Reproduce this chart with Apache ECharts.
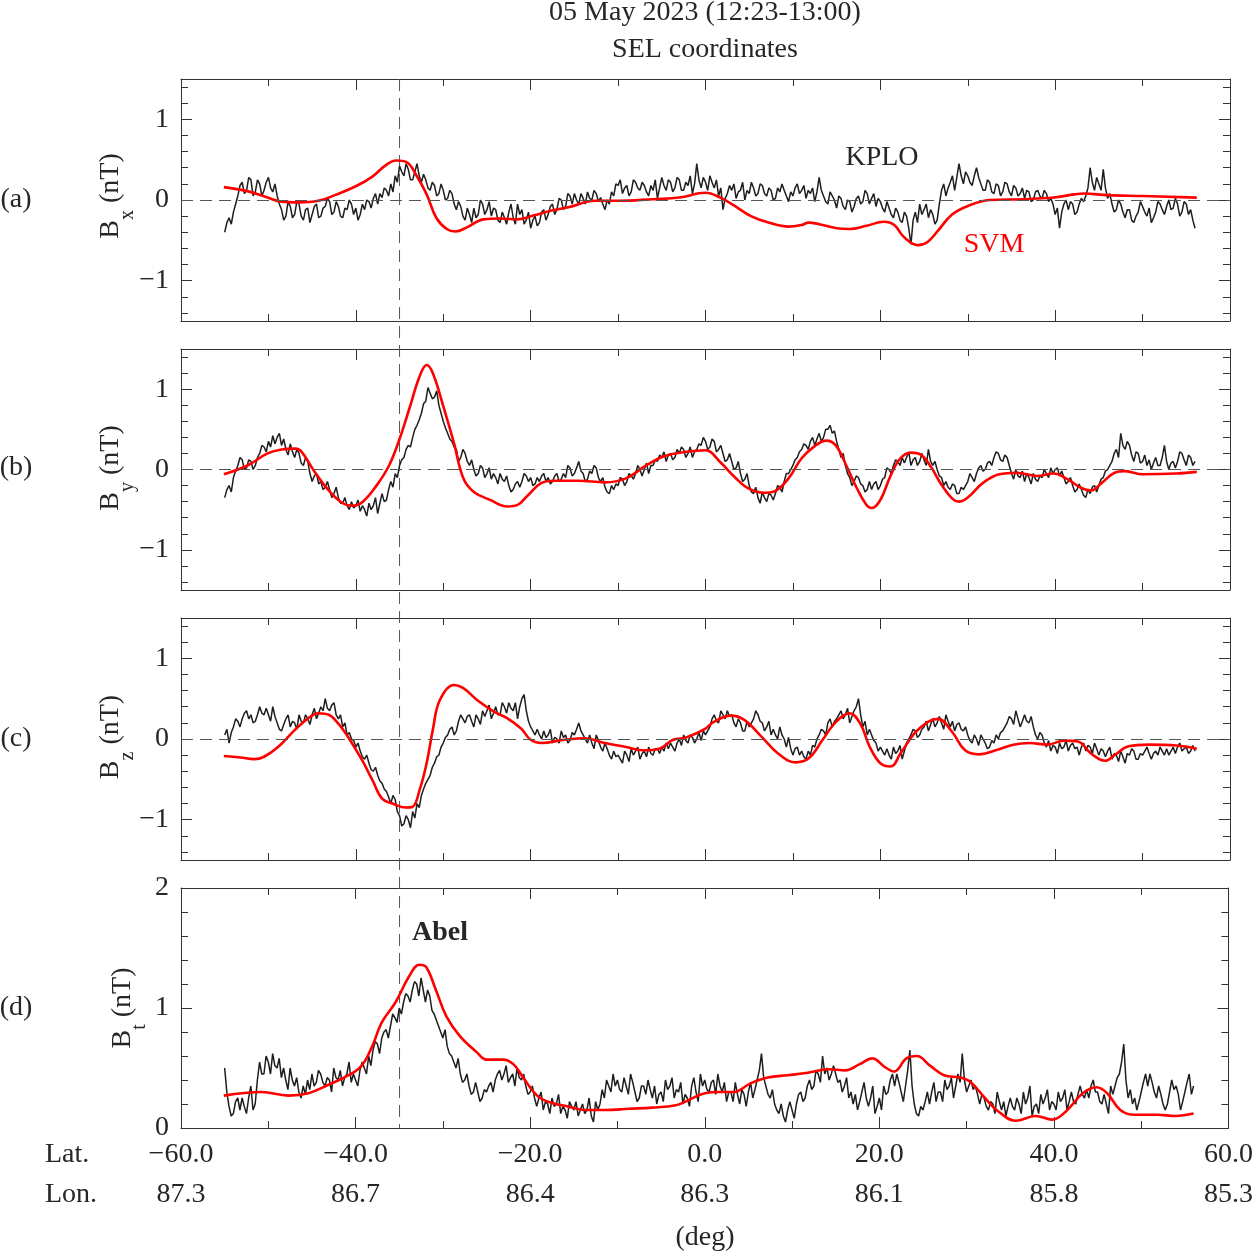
<!DOCTYPE html>
<html><head><meta charset="utf-8">
<script src="https://cdn.jsdelivr.net/npm/echarts@6/dist/echarts.min.js"></script>
<style>html,body{margin:0;padding:0;background:#fff}#c{width:1256px;height:1254px}</style>
</head><body><div id="c"></div>
<script>
// ---------- tick labels ----------
const LAT_TICKS = [-60, -40, -20, 0, 20, 40, 60];
const LON_TICKS = ['87.3', '86.7', '86.4', '86.3', '86.1', '85.8', '85.3'];
const ABEL_LAT = -35;

// ---------- KPLO samples (lat from -55 to 56, every 0.25 deg; one row = 5 deg) ----------
const KPLO_LAT_START = -55, KPLO_LAT_STEP = 0.25;
const KPLO_BX = [
 -0.40,-0.28,-0.22,-0.30,-0.15,-0.05,0.05,0.18,0.22,0.08,0.12,0.28,0.25,0.05,0.10,0.25,0.20,0.05,0.12,0.22,
 0.28,0.15,0.10,0.20,0.05,-0.05,-0.12,-0.25,-0.20,-0.02,-0.08,-0.22,-0.18,-0.02,-0.05,-0.20,-0.25,-0.12,-0.10,-0.28,
 -0.18,-0.08,-0.05,-0.22,-0.20,-0.10,-0.08,0.02,-0.02,-0.18,-0.15,-0.02,-0.08,-0.20,-0.22,-0.10,-0.12,0.00,-0.05,-0.18,
 -0.10,-0.25,-0.18,-0.05,-0.12,0.00,-0.02,-0.10,0.02,0.08,-0.05,0.08,0.03,0.15,0.12,0.05,0.20,0.10,0.30,0.22,
 0.42,0.35,0.30,0.45,0.38,0.25,0.25,0.35,0.45,0.30,0.22,0.32,0.25,0.15,0.12,0.22,0.18,0.05,0.08,0.20,
 0.12,0.00,0.02,0.12,0.08,-0.05,-0.12,-0.02,-0.08,-0.20,-0.25,-0.10,-0.18,-0.28,-0.10,-0.22,-0.18,0.00,-0.05,-0.18,
 -0.12,-0.02,-0.20,-0.10,-0.12,-0.25,-0.28,-0.15,-0.22,-0.30,-0.15,-0.05,-0.22,-0.30,-0.05,-0.18,-0.12,-0.30,-0.25,-0.15,
 -0.35,-0.25,-0.20,-0.32,-0.28,-0.15,-0.12,-0.25,-0.18,-0.08,-0.05,-0.18,-0.12,0.02,0.00,-0.12,-0.08,0.08,0.05,-0.05,
 0.08,0.00,-0.05,0.08,0.02,-0.05,0.10,0.02,0.00,0.12,0.08,-0.02,0.03,-0.05,-0.12,0.00,-0.05,0.10,0.05,0.20,
 0.18,0.25,0.08,0.15,0.18,0.05,0.10,0.25,0.22,0.15,0.12,0.22,0.18,0.10,0.05,0.18,0.12,0.25,0.02,0.15,
 0.28,0.18,0.12,0.25,0.22,0.10,0.15,0.28,0.25,0.12,0.12,0.22,0.18,0.30,0.08,0.20,0.45,0.25,0.15,0.28,
 0.22,0.12,0.30,0.22,0.15,0.25,0.05,0.15,-0.12,0.02,0.08,0.18,0.12,0.20,0.02,0.10,0.12,0.22,0.00,0.12,
 0.08,0.22,0.15,0.05,0.08,0.20,0.18,0.08,0.05,0.15,0.12,0.00,0.02,0.15,0.10,0.20,0.12,0.05,-0.02,0.10,
 0.05,0.15,0.20,0.08,0.12,0.18,0.02,0.12,0.08,0.15,-0.02,0.10,0.28,0.12,0.05,-0.02,-0.05,0.10,0.05,0.00,
 -0.10,0.05,0.02,-0.08,-0.12,0.00,-0.02,-0.15,-0.08,0.02,0.05,-0.05,-0.02,0.12,0.08,-0.05,0.02,0.08,-0.08,0.02,
 -0.02,-0.10,-0.15,-0.02,-0.10,-0.18,-0.22,-0.10,-0.15,-0.25,-0.28,-0.15,-0.20,-0.35,-0.55,-0.25,-0.15,-0.28,-0.05,-0.18,
 -0.12,-0.05,-0.22,-0.12,-0.18,-0.30,-0.25,-0.05,0.12,0.20,0.05,0.15,0.22,0.30,0.12,0.28,0.45,0.30,0.20,0.35,
 0.30,0.22,0.18,0.30,0.40,0.28,0.20,0.12,0.12,0.25,0.22,0.10,0.08,0.20,0.18,0.05,0.10,0.22,0.20,0.10,
 0.05,0.18,0.15,0.05,0.08,0.15,0.02,0.12,0.10,-0.02,0.00,0.10,0.12,0.05,0.02,0.12,0.08,-0.02,0.02,-0.05,
 -0.18,-0.10,-0.35,-0.15,-0.05,0.00,-0.12,-0.02,-0.05,-0.18,-0.15,-0.05,0.02,-0.02,0.05,0.15,0.40,0.22,0.12,0.28,
 0.20,0.12,0.38,0.15,0.02,0.08,-0.05,-0.15,-0.12,0.00,-0.05,-0.15,-0.22,-0.12,-0.12,-0.25,-0.28,-0.20,-0.15,-0.02,
 -0.08,-0.15,-0.20,-0.10,-0.28,-0.22,-0.15,-0.02,-0.05,-0.12,-0.18,-0.08,0.00,-0.12,-0.10,0.02,-0.05,-0.20,-0.15,-0.02,
 -0.05,-0.18,-0.12,-0.25,-0.35
];
const KPLO_BY = [
 -0.35,-0.25,-0.20,-0.28,-0.10,-0.02,0.05,0.15,0.12,0.00,0.02,0.12,0.10,0.00,0.05,0.15,0.20,0.30,0.28,0.22,
 0.35,0.28,0.42,0.32,0.40,0.45,0.30,0.38,0.25,0.18,0.32,0.22,0.15,0.25,0.20,0.08,0.05,0.15,0.10,-0.05,
 -0.15,-0.08,-0.05,-0.18,-0.15,-0.25,-0.22,-0.15,-0.25,-0.35,-0.30,-0.22,-0.35,-0.42,-0.42,-0.35,-0.45,-0.50,-0.40,-0.48,
 -0.45,-0.38,-0.52,-0.45,-0.50,-0.58,-0.42,-0.50,-0.45,-0.35,-0.55,-0.42,-0.30,-0.40,-0.38,-0.25,-0.15,-0.22,-0.05,-0.10,
 0.05,0.12,0.15,0.25,0.30,0.28,0.40,0.50,0.55,0.62,0.70,0.82,0.85,1.02,0.95,0.88,0.90,0.98,0.80,0.70,
 0.60,0.52,0.45,0.38,0.35,0.28,0.25,0.10,0.15,0.25,0.20,0.10,0.05,0.12,0.00,-0.08,-0.05,0.05,0.02,-0.10,
 -0.05,0.02,-0.12,-0.05,-0.10,-0.18,-0.05,-0.12,-0.15,-0.08,-0.20,-0.28,-0.25,-0.18,-0.15,-0.22,-0.15,-0.05,-0.08,-0.15,
 -0.10,-0.20,-0.18,-0.10,-0.15,-0.08,-0.05,-0.15,-0.10,-0.18,-0.15,-0.08,-0.05,-0.15,-0.12,-0.05,-0.10,0.05,0.02,-0.08,
 -0.05,0.02,0.10,-0.02,-0.05,-0.15,-0.12,-0.02,-0.05,0.05,0.02,-0.10,-0.15,-0.10,-0.22,-0.28,-0.30,-0.20,-0.25,-0.18,
 -0.20,-0.10,-0.12,-0.20,-0.15,-0.05,-0.08,-0.12,-0.05,0.05,0.00,-0.08,0.00,0.08,-0.05,0.05,0.05,0.12,0.10,0.18,
 0.15,0.22,0.10,0.18,0.20,0.12,0.15,0.25,0.20,0.28,0.25,0.15,0.20,0.28,0.15,0.22,0.25,0.32,0.30,0.40,
 0.35,0.25,0.28,0.38,0.35,0.22,0.25,0.30,0.20,0.10,0.12,0.20,0.10,0.00,0.02,0.10,-0.05,-0.15,-0.12,-0.05,
 -0.20,-0.28,-0.30,-0.22,-0.35,-0.42,-0.28,-0.35,-0.40,-0.30,-0.32,-0.38,-0.30,-0.20,-0.22,-0.28,-0.15,-0.05,-0.05,0.00,
 0.05,0.12,0.15,0.22,0.25,0.32,0.30,0.25,0.35,0.40,0.30,0.38,0.45,0.35,0.40,0.50,0.50,0.55,0.45,0.48,
 0.35,0.25,0.15,0.20,0.05,-0.05,-0.10,-0.20,-0.15,-0.08,-0.10,-0.18,-0.20,-0.28,-0.25,-0.15,-0.25,-0.18,-0.15,-0.25,
 -0.20,-0.12,-0.10,0.02,0.00,-0.05,0.05,0.12,0.10,0.05,0.15,0.08,0.15,0.22,0.05,0.12,0.15,0.05,0.10,0.20,
 0.12,0.05,0.25,0.10,0.05,0.10,0.00,-0.08,-0.10,-0.20,-0.15,-0.22,-0.25,-0.18,-0.20,-0.30,-0.30,-0.22,-0.25,-0.20,
 -0.15,-0.05,-0.10,-0.15,-0.05,0.02,0.05,-0.02,0.00,0.08,0.10,0.05,0.15,0.22,0.20,0.12,0.10,0.18,0.15,0.05,
 -0.05,-0.12,0.00,-0.08,-0.10,-0.02,-0.15,-0.05,-0.10,-0.18,-0.05,-0.12,-0.15,-0.08,-0.10,0.00,-0.05,-0.10,0.02,-0.05,
 0.00,0.02,-0.08,-0.02,-0.10,-0.18,-0.15,-0.10,-0.20,-0.28,-0.25,-0.18,-0.25,-0.32,-0.35,-0.25,-0.30,-0.22,-0.20,-0.28,
 -0.20,-0.12,-0.10,-0.02,0.00,0.05,0.10,0.20,0.25,0.15,0.45,0.30,0.25,0.35,0.30,0.18,0.10,0.22,0.20,0.08,
 0.10,0.18,0.05,0.12,0.00,0.08,0.15,0.05,0.05,0.15,0.30,0.10,0.00,0.08,0.10,0.02,0.10,0.22,0.20,0.12,
 0.05,0.18,0.15,0.05,0.10
];
const KPLO_BZ = [
 0.05,0.12,-0.05,0.08,0.15,0.25,0.22,0.15,0.25,0.32,0.35,0.25,0.30,0.20,0.22,0.30,0.40,0.32,0.30,0.38,
 0.30,0.22,0.40,0.28,0.20,0.12,0.10,0.18,0.25,0.30,0.15,0.22,0.20,0.12,0.30,0.22,0.20,0.30,0.25,0.18,
 0.30,0.38,0.25,0.32,0.40,0.35,0.50,0.38,0.35,0.42,0.45,0.30,0.25,0.30,0.15,0.20,0.05,0.08,0.00,-0.02,
 -0.10,-0.05,-0.15,-0.22,-0.25,-0.20,-0.30,-0.38,-0.40,-0.35,-0.45,-0.52,-0.55,-0.62,-0.65,-0.72,-0.80,-0.70,-0.75,-0.90,
 -0.95,-1.08,-1.05,-0.95,-1.00,-1.10,-0.90,-0.98,-0.80,-0.85,-0.70,-0.62,-0.55,-0.50,-0.45,-0.35,-0.30,-0.22,-0.20,-0.10,
 -0.05,0.02,0.05,0.12,0.15,0.05,0.10,0.22,0.30,0.25,0.20,0.28,0.30,0.22,0.15,0.30,0.25,0.18,0.35,0.28,
 0.35,0.42,0.25,0.32,0.40,0.30,0.30,0.45,0.40,0.32,0.45,0.38,0.35,0.45,0.25,0.40,0.50,0.55,0.35,0.22,
 0.15,0.10,0.05,0.12,0.05,0.00,0.10,0.02,0.05,0.12,-0.05,0.02,0.00,-0.05,0.10,0.02,0.05,-0.05,-0.02,0.08,
 0.05,0.12,0.20,0.10,0.05,0.00,-0.05,0.05,-0.05,-0.12,0.05,-0.02,-0.10,-0.15,-0.05,-0.12,-0.20,-0.25,-0.15,-0.22,
 -0.20,-0.25,-0.30,-0.15,-0.20,-0.28,-0.12,-0.20,-0.15,-0.10,-0.25,-0.18,-0.15,-0.22,-0.10,-0.18,-0.20,-0.12,-0.12,-0.18,
 -0.10,-0.15,-0.05,-0.12,-0.05,-0.10,-0.15,-0.05,0.00,-0.08,0.05,-0.02,-0.05,0.05,0.02,-0.05,0.00,0.08,-0.02,0.10,
 0.05,0.10,0.15,0.25,0.30,0.22,0.20,0.35,0.30,0.25,0.35,0.28,0.30,0.20,0.15,0.25,0.20,0.10,0.10,0.22,
 0.15,0.20,0.25,0.35,0.30,0.22,0.20,0.10,0.15,0.22,0.05,0.12,0.05,0.00,0.15,0.05,0.00,-0.10,0.02,-0.12,
 -0.20,-0.12,-0.10,-0.20,-0.15,-0.22,-0.25,-0.15,-0.20,-0.08,-0.10,0.00,0.05,0.12,0.10,0.05,0.20,0.25,0.15,0.22,
 0.25,0.30,0.35,0.25,0.30,0.38,0.20,0.28,0.35,0.40,0.50,0.30,0.15,0.22,0.05,0.12,0.05,-0.02,-0.05,-0.15,
 -0.10,-0.15,-0.20,-0.12,-0.20,-0.25,-0.10,-0.18,-0.15,-0.08,-0.25,-0.15,-0.05,0.00,0.05,0.12,0.10,0.02,0.05,0.12,
 0.15,0.22,0.10,0.18,0.25,0.15,0.20,0.28,0.20,0.12,0.30,0.22,0.15,0.22,0.10,0.18,0.20,0.12,0.10,0.15,
 0.05,-0.02,-0.05,0.05,0.00,-0.08,0.05,0.00,-0.05,-0.12,-0.10,-0.02,-0.05,0.05,0.00,0.08,0.10,0.15,0.20,0.28,
 0.25,0.18,0.35,0.25,0.15,0.22,0.30,0.22,0.20,0.28,0.15,0.05,0.00,0.08,0.05,-0.05,-0.10,-0.02,-0.15,-0.08,
 -0.10,-0.18,-0.05,-0.12,-0.10,-0.02,-0.15,-0.08,-0.05,-0.12,-0.10,-0.20,-0.10,-0.05,-0.15,-0.08,-0.10,-0.18,-0.05,-0.12,
 -0.20,-0.12,-0.15,-0.22,-0.15,-0.10,-0.25,-0.18,-0.20,-0.28,-0.15,-0.22,-0.30,-0.18,-0.20,-0.12,-0.15,-0.25,-0.25,-0.18,
 -0.20,-0.15,-0.10,-0.18,-0.25,-0.18,-0.15,-0.20,-0.10,-0.15,-0.20,-0.12,-0.20,-0.15,-0.10,-0.18,-0.10,-0.05,-0.15,-0.12,
 -0.10,-0.18,-0.15,-0.08,-0.15
];
const KPLO_BT = [
 0.50,0.30,0.18,0.10,0.12,0.22,0.25,0.15,0.25,0.18,0.12,0.25,0.35,0.15,0.20,0.40,0.55,0.45,0.45,0.60,
 0.55,0.45,0.62,0.52,0.50,0.58,0.42,0.50,0.40,0.32,0.50,0.40,0.35,0.42,0.30,0.25,0.35,0.28,0.40,0.32,
 0.45,0.35,0.38,0.48,0.45,0.38,0.35,0.42,0.40,0.30,0.50,0.42,0.40,0.48,0.35,0.42,0.45,0.55,0.38,0.45,
 0.40,0.35,0.48,0.55,0.50,0.45,0.60,0.52,0.65,0.72,0.70,0.62,0.75,0.80,0.82,0.75,0.85,0.95,0.92,0.88,
 1.00,0.95,1.05,1.12,1.10,1.05,1.15,1.22,1.20,1.10,1.25,1.15,1.05,1.15,1.10,0.98,0.95,0.90,0.85,0.80,
 0.75,0.82,0.68,0.62,0.60,0.55,0.50,0.58,0.45,0.38,0.40,0.45,0.35,0.28,0.30,0.38,0.30,0.22,0.25,0.32,
 0.30,0.35,0.38,0.30,0.40,0.45,0.48,0.40,0.45,0.52,0.38,0.42,0.45,0.35,0.50,0.42,0.40,0.45,0.35,0.28,
 0.30,0.35,0.25,0.18,0.25,0.30,0.15,0.22,0.20,0.12,0.25,0.18,0.20,0.28,0.12,0.18,0.15,0.08,0.22,0.18,
 0.15,0.22,0.10,0.15,0.20,0.12,0.15,0.25,0.10,0.05,0.22,0.15,0.20,0.32,0.25,0.40,0.35,0.30,0.45,0.35,
 0.40,0.32,0.30,0.42,0.35,0.28,0.45,0.38,0.30,0.22,0.25,0.35,0.35,0.28,0.40,0.32,0.25,0.35,0.20,0.28,
 0.30,0.22,0.40,0.32,0.35,0.42,0.25,0.32,0.30,0.38,0.20,0.28,0.25,0.18,0.35,0.42,0.30,0.22,0.45,0.35,
 0.40,0.32,0.30,0.38,0.40,0.28,0.45,0.35,0.30,0.38,0.22,0.30,0.30,0.22,0.38,0.28,0.20,0.32,0.28,0.18,
 0.30,0.38,0.25,0.32,0.40,0.48,0.62,0.42,0.35,0.28,0.25,0.32,0.20,0.15,0.12,0.20,0.10,0.05,0.15,0.22,
 0.15,0.08,0.20,0.28,0.30,0.22,0.25,0.35,0.40,0.32,0.35,0.48,0.45,0.38,0.60,0.45,0.50,0.40,0.45,0.52,
 0.45,0.38,0.40,0.30,0.35,0.42,0.25,0.30,0.20,0.28,0.15,0.22,0.30,0.38,0.25,0.18,0.25,0.35,0.12,0.18,
 0.25,0.15,0.35,0.28,0.30,0.40,0.45,0.35,0.45,0.38,0.30,0.22,0.35,0.48,0.65,0.35,0.20,0.12,0.10,0.18,
 0.15,0.22,0.30,0.20,0.30,0.38,0.22,0.30,0.30,0.22,0.40,0.32,0.35,0.42,0.25,0.35,0.45,0.38,0.62,0.40,
 0.30,0.35,0.40,0.32,0.35,0.28,0.20,0.28,0.25,0.18,0.15,0.22,0.20,0.12,0.30,0.22,0.15,0.22,0.10,0.18,
 0.25,0.18,0.15,0.25,0.20,0.12,0.30,0.20,0.25,0.35,0.10,0.18,0.20,0.12,0.28,0.20,0.25,0.32,0.15,0.22,
 0.20,0.15,0.30,0.22,0.25,0.32,0.15,0.22,0.30,0.22,0.20,0.28,0.35,0.28,0.25,0.32,0.25,0.35,0.40,0.30,
 0.30,0.22,0.20,0.28,0.20,0.12,0.35,0.28,0.35,0.42,0.45,0.55,0.70,0.40,0.25,0.32,0.20,0.25,0.15,0.22,
 0.30,0.38,0.45,0.35,0.45,0.38,0.30,0.25,0.35,0.28,0.20,0.15,0.20,0.30,0.40,0.32,0.35,0.28,0.15,0.22,
 0.30,0.38,0.45,0.28,0.35
];

// ---------- SVM model curves ----------
const SVM_BX_LAT = [-55.1,-52.4,-50.1,-48.5,-46.6,-44.3,-42.4,-40,-38.1,-36.6,
 -35.4,-34.2,-33.1,-31.9,-30.8,-29.6,-28.6,-27.3,-25.4,-23.4,
 -21.5,-19.6,-17.6,-15.7,-12.6,-9.9,-6,-3,0,1.7,
 3.3,5.2,7.2,9.5,11,11.8,13,15,16.5,18.4,
 20.4,21.6,22.7,24.3,25.4,26.6,28.2,30.1,32.5,36.3,
 39.8,42.2,43.3,46,50,56.2];
const SVM_BX = [0.16,0.11,0.03,-0.02,-0.03,-0.01,0.06,0.17,0.29,0.43,
 0.49,0.47,0.31,0.07,-0.22,-0.36,-0.39,-0.34,-0.24,-0.23,
 -0.24,-0.19,-0.13,-0.09,-0.01,-0.01,0.01,0.03,0.09,0.03,
 -0.07,-0.20,-0.28,-0.33,-0.31,-0.28,-0.30,-0.35,-0.36,-0.32,
 -0.27,-0.31,-0.46,-0.56,-0.52,-0.38,-0.18,-0.07,0.00,0.01,
 0.03,0.07,0.08,0.06,0.05,0.03];
const SVM_BY_LAT = [-55.1,-52.4,-50.1,-48.5,-46.9,-46.2,-44.7,-43.1,-41.5,-40.4,
 -39.2,-37.7,-36.2,-35,-33.9,-32.7,-31.9,-31.2,-30,-28.8,
 -27.7,-26.5,-24.6,-22.7,-21.5,-20.3,-18.8,-17.3,-14.6,-11.5,
 -9.1,-6.8,-4.9,-2.2,0,
 1.7,3.3,4.8,6.6,7.9,9.5,11,12.6,13.8,14.9,
 16.1,17.3,18.4,19,20,21.2,22.3,23.5,24.7,25.8,
 27,28.2,29,30.1,31.7,33.6,35.6,37.9,39.8,41.4,
 43,44.1,45.3,46.8,48,50,53.9,56.2];
const SVM_BY = [-0.06,0.05,0.20,0.25,0.26,0.22,-0.03,-0.26,-0.42,-0.45,
 -0.40,-0.21,0.05,0.38,0.75,1.16,1.30,1.20,0.79,0.34,
 -0.11,-0.28,-0.38,-0.46,-0.44,-0.32,-0.17,-0.14,-0.14,-0.16,
 -0.11,0.05,0.16,0.22,0.24,
 0.09,-0.09,-0.23,-0.29,-0.27,-0.11,0.14,0.30,0.36,0.30,
 0.05,-0.23,-0.44,-0.48,-0.38,-0.07,0.14,0.21,0.18,0.03,
 -0.19,-0.36,-0.40,-0.34,-0.17,-0.06,-0.04,-0.08,-0.05,-0.12,
 -0.23,-0.26,-0.17,-0.04,-0.02,-0.06,-0.05,-0.03];
const SVM_BZ_LAT = [-55.1,-53.2,-51.6,-50.5,-48.9,-47,-45.4,-44.3,-43.1,-42,
 -40.8,-39.3,-38.1,-37,-35.8,-34.3,-33.5,-32.7,-31.9,-31.2,
 -30.4,-28.8,-27.7,-26.1,-24.2,-22.7,-21.1,-20,-18.8,-16.1,
 -13.8,-11.5,-9.1,-7.2,-5.3,-3.7,-2.2,0,0.9,2.9,
 4.4,6.4,8.3,10.3,11.8,13.4,14.9,16.5,17.7,18.8,
 20,21.2,22.3,23.9,25.4,26.6,28.2,29.7,31.3,33.2,
 35.2,37.1,39.1,41,42.6,44.1,45.7,46.8,48.4,50.7,
 53.9,56.2];
const SVM_BZ = [-0.21,-0.23,-0.25,-0.22,-0.10,0.11,0.26,0.32,0.30,0.19,
 0.01,-0.26,-0.51,-0.74,-0.80,-0.85,-0.84,-0.63,-0.30,0.11,
 0.48,0.67,0.63,0.48,0.34,0.26,0.13,-0.01,-0.05,-0.01,
 0.01,-0.05,-0.10,-0.14,-0.12,-0.01,0.02,0.13,0.21,0.29,
 0.24,0.03,-0.18,-0.29,-0.24,-0.01,0.21,0.32,0.19,-0.10,
 -0.30,-0.34,-0.18,0.07,0.21,0.25,0.09,-0.14,-0.19,-0.14,
 -0.07,-0.05,-0.07,-0.02,-0.03,-0.18,-0.27,-0.20,-0.09,-0.07,
 -0.08,-0.12];
const SVM_BT_LAT = [-55.1,-50.8,-47.7,-45.4,-43.1,-40.8,-39.3,-38.1,-37,-35.4,
 -33.9,-32.7,-31.9,-30.8,-29.6,-28.1,-26.1,-25,-23.1,-21.9,
 -20.8,-19.2,-17.6,-15.7,-13.7,-11.4,-8.7,-6,-3.3,-2.2,
 0,1.7,3.3,5.2,7.2,9.5,11.8,14.2,16.1,17.7,
 19.2,20.6,21.7,23.1,24.3,25.8,27.4,29.3,30.5,32.1,
 33.6,35.6,37.9,39.8,41.4,43.3,44.9,46.1,47.6,49.2,
 51.9,53.9,56];
const SVM_BT = [0.27,0.30,0.27,0.29,0.36,0.44,0.52,0.68,0.88,1.05,
 1.26,1.36,1.34,1.15,0.93,0.77,0.63,0.57,0.57,0.53,
 0.42,0.27,0.21,0.18,0.15,0.15,0.16,0.17,0.19,0.22,
 0.29,0.30,0.30,0.37,0.42,0.44,0.46,0.49,0.48,0.53,
 0.58,0.51,0.47,0.58,0.60,0.52,0.44,0.42,0.38,0.25,
 0.14,0.06,0.10,0.07,0.14,0.29,0.34,0.29,0.15,0.11,
 0.11,0.10,0.12];

// ---------- styling ----------
const FONT = 'Liberation Serif';
const TXT = '#262626';
const AX = '#333333';
const FS = 28;

const kploLat = KPLO_BX.map((_, i) => KPLO_LAT_START + i * KPLO_LAT_STEP);

const panels = [
  {top: 79, height: 242, range: [-1.5, 1.5], kplo: KPLO_BX, svmLat: SVM_BX_LAT, svm: SVM_BX, zero: true},
  {top: 349, height: 241, range: [-1.5, 1.5], kplo: KPLO_BY, svmLat: SVM_BY_LAT, svm: SVM_BY, zero: true},
  {top: 618, height: 242, range: [-1.5, 1.5], kplo: KPLO_BZ, svmLat: SVM_BZ_LAT, svm: SVM_BZ, zero: true},
  {top: 888, height: 240, range: [0, 2], kplo: KPLO_BT, svmLat: SVM_BT_LAT, svm: SVM_BT, zero: false}
];
const Y_MAJOR = [[-1, 0, 1], [-1, 0, 1], [-1, 0, 1], [0, 1, 2]];
const Y_MINOR = [
  [-1.4,-1.2,-0.8,-0.6,-0.4,-0.2,0.2,0.4,0.6,0.8,1.2,1.4],
  [-1.4,-1.2,-0.8,-0.6,-0.4,-0.2,0.2,0.4,0.6,0.8,1.2,1.4],
  [-1.4,-1.2,-0.8,-0.6,-0.4,-0.2,0.2,0.4,0.6,0.8,1.2,1.4],
  [0.2,0.4,0.6,0.8,1.2,1.4,1.6,1.8]
];

function fmtLat(v) { return (v < 0 ? '\u2212' : '') + Math.abs(v).toFixed(1); }
function fmtY(v) { return (v < 0 ? '\u2212' : '') + Math.abs(v); }

const grid = [], xAxis = [], yAxis = [], series = [];
panels.forEach((p, i) => {
  grid.push({left: 181, right: 26, top: p.top, height: p.height, containLabel: false});
  ['bottom', 'top'].forEach(pos => {
    const showLab = (i === 3 && pos === 'bottom');
    xAxis.push({
      type: 'value', gridIndex: i, position: pos, min: -60, max: 60, interval: 20,
      axisLine: {show: true, onZero: false, lineStyle: {color: AX, width: 1}},
      axisTick: {show: true, inside: true, length: 11, lineStyle: {color: AX, width: 1}},
      minorTick: {show: true, splitNumber: 2, length: 7, lineStyle: {color: AX, width: 1}},
      splitLine: {show: false}, minorSplitLine: {show: false},
      axisLabel: showLab ? {
        show: true, margin: 7, fontFamily: FONT, fontSize: FS, color: TXT, lineHeight: 40,
        customValues: LAT_TICKS,
        formatter: v => fmtLat(v) + '\n' + LON_TICKS[LAT_TICKS.indexOf(v)]
      } : {show: false}
    });
  });
  ['left', 'right'].forEach(pos => {
    yAxis.push({
      type: 'value', gridIndex: i, position: pos, min: p.range[0], max: p.range[1],
      axisLine: {show: true, onZero: false, lineStyle: {color: AX, width: 1}},
      axisTick: {show: true, inside: true, length: 11, customValues: Y_MAJOR[i], lineStyle: {color: AX, width: 1}},
      splitLine: {show: false},
      axisLabel: pos === 'left' ? {
        show: true, margin: 12, fontFamily: FONT, fontSize: FS, color: TXT,
        customValues: Y_MAJOR[i], formatter: fmtY
      } : {show: false}
    });
  });
  ['left', 'right'].forEach(pos => {
    yAxis.push({
      type: 'value', gridIndex: i, position: pos, min: p.range[0], max: p.range[1],
      axisLine: {show: false, onZero: false},
      axisTick: {show: true, inside: true, length: 7, customValues: Y_MINOR[i], lineStyle: {color: AX, width: 1}},
      splitLine: {show: false}, axisLabel: {show: false}
    });
  });
  if (p.zero) {
    series.push({
      type: 'line', xAxisIndex: 2 * i, yAxisIndex: 4 * i, data: [], z: 1, silent: true,
      markLine: {silent: true, symbol: 'none', label: {show: false},
        lineStyle: {color: '#555', type: [12, 7], width: 1}, data: [{yAxis: 0}]}
    });
  }
  series.push({
    type: 'line', xAxisIndex: 2 * i, yAxisIndex: 4 * i, silent: true, z: 3,
    data: p.kplo.map((v, k) => [kploLat[k], v]),
    showSymbol: false, symbol: 'none',
    lineStyle: {color: '#1e1e1e', width: 1.5}
  });
  series.push({
    type: 'line', xAxisIndex: 2 * i, yAxisIndex: 4 * i, silent: true, z: 4,
    data: p.svm.map((v, k) => [p.svmLat[k], v]),
    showSymbol: false, symbol: 'none', smooth: 0.4,
    lineStyle: {color: '#ff0000', width: 2.6}
  });
});

const chart = echarts.init(document.getElementById('c'), null, {renderer: 'canvas'});
chart.setOption({animation: false, backgroundColor: '#fff', grid, xAxis, yAxis, series});

// ---------- annotations ----------
const xAbel = chart.convertToPixel({xAxisIndex: 0}, ABEL_LAT);
const yTop = chart.convertToPixel({yAxisIndex: 0}, 1.5);
const yBot = chart.convertToPixel({yAxisIndex: 12}, 0);

function txt(x, y, text, extra) {
  return {type: 'text', x, y, silent: true, z: 50,
    style: Object.assign({text, fontFamily: FONT, fontSize: FS, fill: TXT, align: 'center', verticalAlign: 'middle'}, extra || {})};
}
const richY = {
  b: {fontFamily: FONT, fontSize: FS, fill: TXT, color: TXT, lineHeight: 28, verticalAlign: 'top'},
  s: {fontFamily: FONT, fontSize: 20, fill: TXT, color: TXT, lineHeight: 20, padding: [21, 0, 0, 0], verticalAlign: 'top'}
};
function yName(x, y, sub) {
  return {type: 'text', x, y, rotation: Math.PI / 2, silent: true, z: 50,
    style: {text: '{b|B}{s|' + sub + '}{b| (nT)}', rich: richY, align: 'center', verticalAlign: 'middle', fontFamily: FONT}};
}
const graphic = [
  {type: 'line', silent: true, z: 1, shape: {x1: xAbel, y1: yTop, x2: xAbel, y2: yBot},
    style: {stroke: '#555', lineWidth: 1, lineDash: [12, 7]}},
  txt(705, 13, '05 May 2023 (12:23-13:00)'),
  txt(705, 50, 'SEL coordinates'),
  txt(16, 200, '(a)'), txt(16, 468, '(b)'), txt(16, 739, '(c)'), txt(16, 1008, '(d)'),
  yName(111, 196, 'x'), yName(111, 468, 'y'), yName(111, 737, 'z'), yName(123, 1008, 't'),
  txt(882, 158, 'KPLO'),
  txt(994, 245, 'SVM', {fill: '#ff0000'}),
  txt(440, 933, 'Abel', {fontWeight: 'bold'}),
  txt(45, 1155, 'Lat.', {align: 'left'}),
  txt(45, 1195, 'Lon.', {align: 'left'}),
  txt(705, 1238, '(deg)')
];
chart.setOption({graphic});
</script>
</body></html>
